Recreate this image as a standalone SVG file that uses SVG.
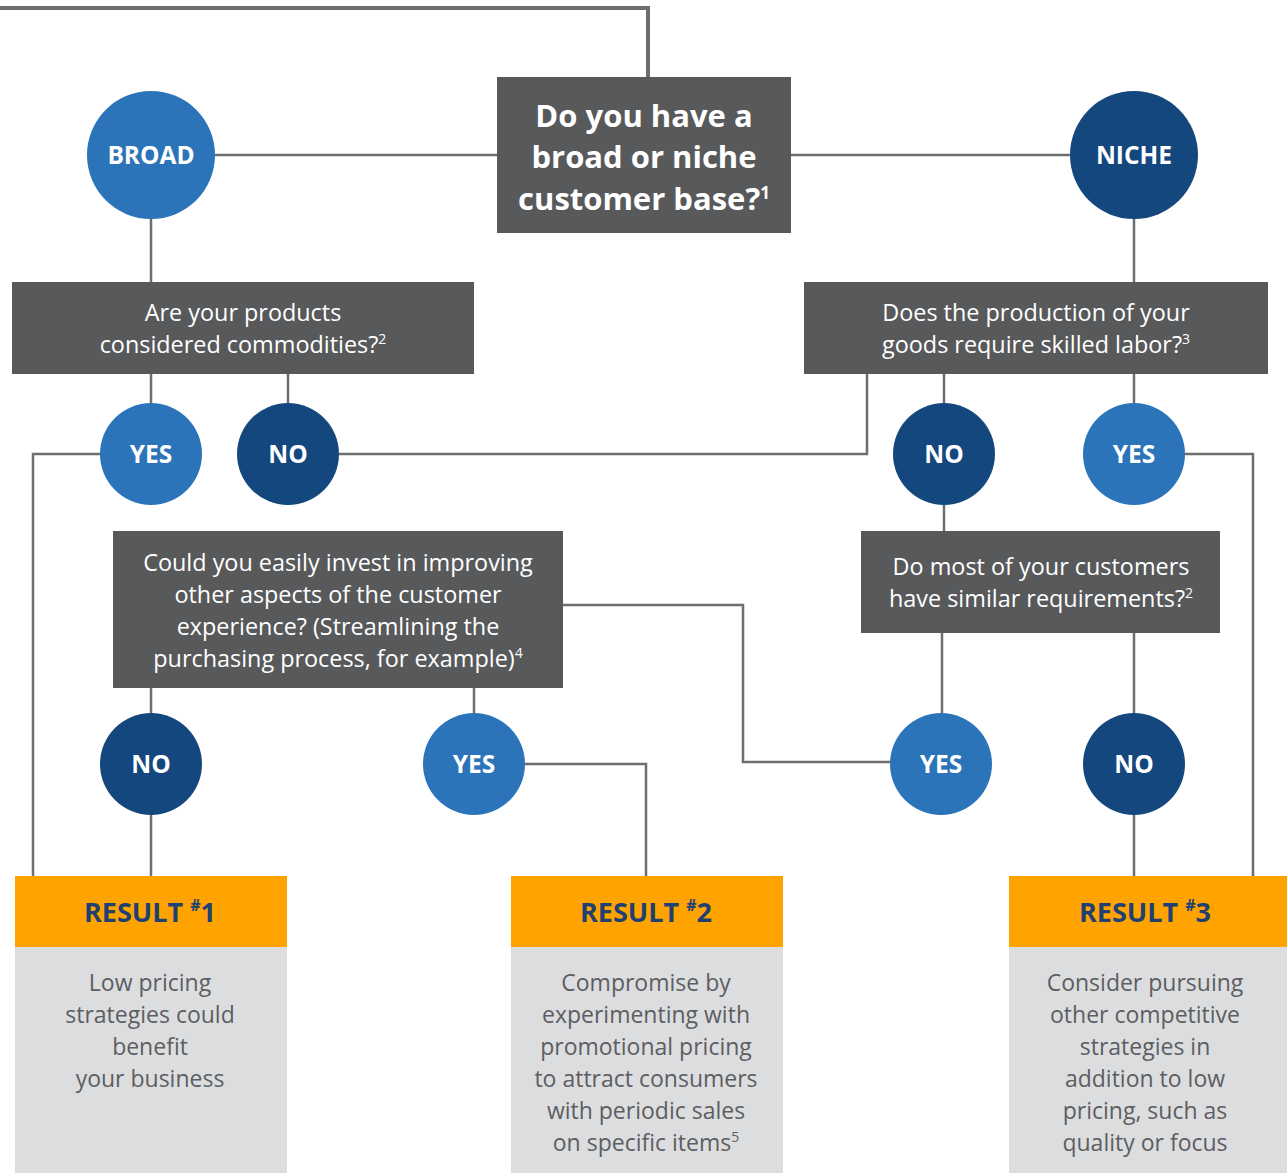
<svg xmlns="http://www.w3.org/2000/svg" width="1287" height="1173" viewBox="0 0 1287 1173">
<style>
.q{fill:#58595b}
.lt{fill:#2b74b9}
.dk{fill:#15477f}
.hd{fill:#ffa300}
.bd{fill:#dcdddf}
.qt{font-family:"Open Sans","Liberation Sans",sans-serif;font-size:23.4px;fill:#ffffff;text-anchor:middle;font-weight:400}
.tt{font-family:"Open Sans","Liberation Sans",sans-serif;font-size:31px;fill:#ffffff;text-anchor:middle;font-weight:700}
.ct{font-family:"Open Sans","Liberation Sans",sans-serif;font-size:24.5px;fill:#ffffff;text-anchor:middle;font-weight:700}
.rh{font-family:"Open Sans","Liberation Sans",sans-serif;font-size:27px;fill:#1f4170;text-anchor:middle;font-weight:700}
.rt{font-family:"Open Sans","Liberation Sans",sans-serif;font-size:23px;fill:#5d5e61;text-anchor:middle;font-weight:400}
.sup{font-size:14px}
.tsup{font-size:17px}
.c{fill:none;stroke:#6d6e71;stroke-width:2.5}
.ct4{stroke-width:4}
</style>
<rect width="1287" height="1173" fill="#ffffff"/>
<g id="connectors">
<path class="c ct4" d="M0 8 H648 V80"/>
<path class="c" d="M215 155 H500"/>
<path class="c" d="M790 155 H1070"/>
<path class="c" d="M151 219 V282"/>
<path class="c" d="M1134 219 V282"/>
<path class="c" d="M151 374 V404"/>
<path class="c" d="M288 374 V404"/>
<path class="c" d="M944 374 V404"/>
<path class="c" d="M1134 374 V404"/>
<path class="c" d="M101 454 H33 V877"/>
<path class="c" d="M338 454 H867 V374"/>
<path class="c" d="M1185 454 H1253 V877"/>
<path class="c" d="M944 504 V532"/>
<path class="c" d="M942 633 V714"/>
<path class="c" d="M1134 633 V714"/>
<path class="c" d="M151 688 V714"/>
<path class="c" d="M474 688 V714"/>
<path class="c" d="M562 605 H743 V762 H891"/>
<path class="c" d="M524 764 H646 V877"/>
<path class="c" d="M151 814 V877"/>
<path class="c" d="M1134 814 V877"/>
</g>
<g id="q-main">
<rect class="q" x="497" y="77" width="294" height="156"/>
<text class="tt" x="644" y="127">Do you have a</text>
<text class="tt" x="644" y="168">broad or niche</text>
<text class="tt" x="644" y="210">customer base?<tspan class="tsup" baseline-shift="super">1</tspan></text>
</g>
<g id="broad">
<circle class="lt" cx="151" cy="155" r="64"/>
<text class="ct" x="151" y="164">BROAD</text>
</g>
<g id="niche">
<circle class="dk" cx="1134" cy="155" r="64"/>
<text class="ct" x="1134" y="164">NICHE</text>
</g>
<g id="q-commodities">
<rect class="q" x="12" y="282" width="462" height="92"/>
<text class="qt" x="243" y="321">Are your products</text>
<text class="qt" x="243" y="353">considered commodities?<tspan class="sup" baseline-shift="super">2</tspan></text>
</g>
<g id="q-skilled">
<rect class="q" x="804" y="282" width="464" height="92"/>
<text class="qt" x="1036" y="321">Does the production of your</text>
<text class="qt" x="1036" y="353">goods require skilled labor?<tspan class="sup" baseline-shift="super">3</tspan></text>
</g>
<g id="yes1">
<circle class="lt" cx="151" cy="454" r="51"/>
<text class="ct" x="151" y="463">YES</text>
</g>
<g id="no1">
<circle class="dk" cx="288" cy="454" r="51"/>
<text class="ct" x="288" y="463">NO</text>
</g>
<g id="no2">
<circle class="dk" cx="944" cy="454" r="51"/>
<text class="ct" x="944" y="463">NO</text>
</g>
<g id="yes2">
<circle class="lt" cx="1134" cy="454" r="51"/>
<text class="ct" x="1134" y="463">YES</text>
</g>
<g id="q-invest">
<rect class="q" x="113" y="531" width="450" height="157"/>
<text class="qt" x="338" y="571">Could you easily invest in improving</text>
<text class="qt" x="338" y="603">other aspects of the customer</text>
<text class="qt" x="338" y="635">experience? (Streamlining the</text>
<text class="qt" x="338" y="667">purchasing process, for example)<tspan class="sup" baseline-shift="super">4</tspan></text>
</g>
<g id="q-similar">
<rect class="q" x="861" y="531" width="359" height="102"/>
<text class="qt" x="1041" y="575">Do most of your customers</text>
<text class="qt" x="1041" y="607">have similar requirements?<tspan class="sup" baseline-shift="super">2</tspan></text>
</g>
<g id="no3">
<circle class="dk" cx="151" cy="764" r="51"/>
<text class="ct" x="151" y="773">NO</text>
</g>
<g id="yes3">
<circle class="lt" cx="474" cy="764" r="51"/>
<text class="ct" x="474" y="773">YES</text>
</g>
<g id="yes4">
<circle class="lt" cx="941" cy="764" r="51"/>
<text class="ct" x="941" y="773">YES</text>
</g>
<g id="no4">
<circle class="dk" cx="1134" cy="764" r="51"/>
<text class="ct" x="1134" y="773">NO</text>
</g>
<g id="result1">
<rect class="hd" x="15" y="876" width="272" height="71"/>
<rect class="bd" x="15" y="947" width="272" height="226"/>
<text class="rh" x="150" y="922">RESULT <tspan font-size="16" baseline-shift="super">#</tspan>1</text>
<text class="rt" x="150" y="991">Low pricing</text>
<text class="rt" x="150" y="1023">strategies could</text>
<text class="rt" x="150" y="1055">benefit</text>
<text class="rt" x="150" y="1087">your business</text>
</g>
<g id="result2">
<rect class="hd" x="511" y="876" width="272" height="71"/>
<rect class="bd" x="511" y="947" width="272" height="226"/>
<text class="rh" x="646" y="922">RESULT <tspan font-size="16" baseline-shift="super">#</tspan>2</text>
<text class="rt" x="646" y="991">Compromise by</text>
<text class="rt" x="646" y="1023">experimenting with</text>
<text class="rt" x="646" y="1055">promotional pricing</text>
<text class="rt" x="646" y="1087">to attract consumers</text>
<text class="rt" x="646" y="1119">with periodic sales</text>
<text class="rt" x="646" y="1151">on specific items<tspan class="sup" baseline-shift="super">5</tspan></text>
</g>
<g id="result3">
<rect class="hd" x="1009" y="876" width="278" height="71"/>
<rect class="bd" x="1009" y="947" width="278" height="226"/>
<text class="rh" x="1145" y="922">RESULT <tspan font-size="16" baseline-shift="super">#</tspan>3</text>
<text class="rt" x="1145" y="991">Consider pursuing</text>
<text class="rt" x="1145" y="1023">other competitive</text>
<text class="rt" x="1145" y="1055">strategies in</text>
<text class="rt" x="1145" y="1087">addition to low</text>
<text class="rt" x="1145" y="1119">pricing, such as</text>
<text class="rt" x="1145" y="1151">quality or focus</text>
</g>
</svg>
